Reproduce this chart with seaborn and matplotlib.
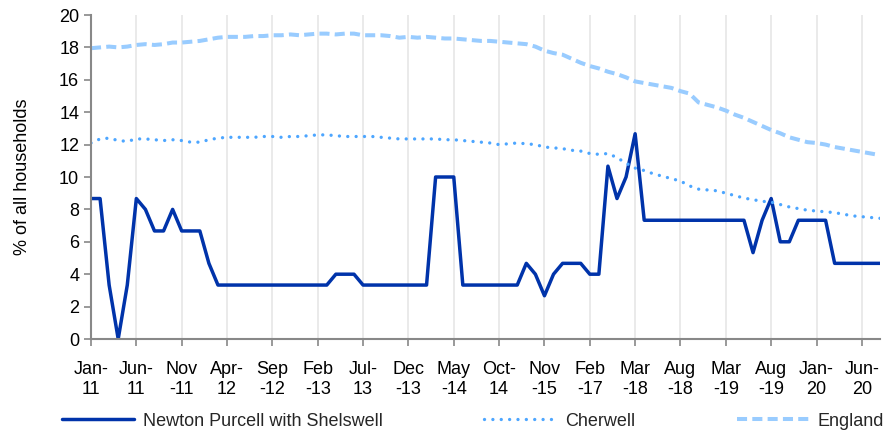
import numpy as np
import pandas as pd
import matplotlib.pyplot as plt
import seaborn as sns

# =====================================================================
# DATA (% of all households)
# =====================================================================
TICK_LABELS = ["Jan-\n11", "Jun-\n11", "Nov\n-11", "Apr-\n12", "Sep\n-12", "Feb\n-13",
               "Jul-\n13", "Dec\n-13", "May\n-14", "Oct-\n14", "Nov\n-15", "Feb\n-17",
               "Mar\n-18", "Aug\n-18", "Mar\n-19", "Aug\n-19", "Jan-\n20", "Jun-\n20"]

NEWTON = [8.67, 8.67, 3.33, 0.0, 3.33, 8.67, 8.0, 6.67, 6.67, 8.0,
          6.67, 6.67, 6.67, 4.67, 3.33, 3.33, 3.33, 3.33, 3.33, 3.33,
          3.33, 3.33, 3.33, 3.33, 3.33, 3.33, 3.33, 4.0, 4.0, 4.0,
          3.33, 3.33, 3.33, 3.33, 3.33, 3.33, 3.33, 3.33, 10.0, 10.0,
          10.0, 3.33, 3.33, 3.33, 3.33, 3.33, 3.33, 3.33, 4.67, 4.0,
          2.67, 4.0, 4.67, 4.67, 4.67, 4.0, 4.0, 10.67, 8.67, 10.0,
          12.67, 7.33, 7.33, 7.33, 7.33, 7.33, 7.33, 7.33, 7.33, 7.33,
          7.33, 7.33, 7.33, 5.33, 7.33, 8.67, 6.0, 6.0, 7.33, 7.33,
          7.33, 7.33, 4.67, 4.67, 4.67, 4.67, 4.67, 4.67]

CHERWELL = [12.1, 12.35, 12.4, 12.25, 12.2, 12.35, 12.35, 12.3, 12.25, 12.3,
            12.25, 12.15, 12.15, 12.3, 12.4, 12.45, 12.45, 12.45, 12.45, 12.5,
            12.5, 12.45, 12.5, 12.5, 12.55, 12.6, 12.6, 12.55, 12.5, 12.5,
            12.5, 12.5, 12.45, 12.4, 12.35, 12.35, 12.35, 12.35, 12.35, 12.3,
            12.3, 12.25, 12.2, 12.15, 12.1, 12.0, 12.05, 12.1, 12.05, 12.0,
            11.85, 11.8, 11.75, 11.65, 11.6, 11.45, 11.4, 11.45, 11.2, 10.85,
            10.55, 10.4, 10.2, 10.05, 9.9, 9.75, 9.45, 9.25, 9.2, 9.15,
            9.0, 8.85, 8.7, 8.6, 8.5, 8.45, 8.3, 8.15, 8.05, 7.95,
            7.9, 7.85, 7.8, 7.7, 7.6, 7.55, 7.5, 7.45]

ENGLAND = [17.95, 18.0, 18.05, 18.0, 18.05, 18.15, 18.2, 18.15, 18.2, 18.3,
           18.3, 18.35, 18.4, 18.5, 18.6, 18.65, 18.65, 18.65, 18.7, 18.7,
           18.75, 18.75, 18.8, 18.75, 18.8, 18.85, 18.85, 18.8, 18.85, 18.85,
           18.75, 18.75, 18.75, 18.7, 18.6, 18.65, 18.6, 18.65, 18.6, 18.55,
           18.55, 18.5, 18.45, 18.4, 18.4, 18.35, 18.3, 18.25, 18.2, 18.05,
           17.8, 17.65, 17.55, 17.3, 17.05, 16.85, 16.7, 16.5, 16.35, 16.15,
           15.9, 15.8, 15.7, 15.6, 15.5, 15.3, 15.15, 14.6, 14.45, 14.3,
           14.1, 13.85, 13.65, 13.4, 13.15, 12.9, 12.7, 12.45, 12.3, 12.15,
           12.1, 12.0, 11.85, 11.75, 11.65, 11.55, 11.45, 11.35]

SERIES = ["Newton Purcell with Shelswell", "Cherwell", "England"]

df = pd.DataFrame({
    "period": np.arange(len(NEWTON)),
    SERIES[0]: NEWTON,
    SERIES[1]: CHERWELL,
    SERIES[2]: ENGLAND,
})

# =====================================================================
# PLOTTING
# =====================================================================
sns.set_theme(style="white")
plt.rcParams['font.family'] = ['Liberation Sans', 'DejaVu Sans']

fig = plt.figure(figsize=(8.85, 4.32), dpi=100)
ax = fig.add_axes([91 / 885, 1 - 339 / 432, (880 - 91) / 885, (339 - 15) / 432])

sns.lineplot(data=df, x="period", y=SERIES[0], color="#0033AA", lw=2.5,
             errorbar=None, label=SERIES[0], ax=ax)
sns.lineplot(data=df, x="period", y=SERIES[1], color="#4DA6FF", lw=2.4,
             errorbar=None, label=SERIES[1], ax=ax)
sns.lineplot(data=df, x="period", y=SERIES[2], color="#99CCFF", lw=2.9,
             errorbar=None, label=SERIES[2], ax=ax)

# dotted (round dots) and dashed styles, set on the drawn lines
dotted, dashed = ax.lines[1], ax.lines[2]
dotted.set_linestyle((0, (0.01, 2.5)))
dotted.set_dash_capstyle("round")
dashed.set_linestyle((0, (2.5, 1.3)))

ax.set_xlim(0, len(NEWTON) - 1)
ax.set_ylim(0, 20)
ax.set_xticks(np.arange(0, len(NEWTON), 5))
ax.set_xticklabels(TICK_LABELS)
ax.set_yticks(np.arange(0, 21, 2))
ax.set_xlabel("")
ax.set_ylabel("% of all households", fontsize=13, color="black", labelpad=20)

ax.set_axisbelow(True)
ax.grid(axis='x', color='#e6e6e6', lw=1.2)
ax.grid(axis='y', visible=False)
ax.tick_params(axis='both', direction='out', length=5, width=1.2, color='#888888',
               labelsize=13, labelcolor='black', left=True, bottom=True)
ax.tick_params(axis='x', pad=11)

sns.despine(ax=ax)
for side in ['left', 'bottom']:
    ax.spines[side].set_color('#888888')
    ax.spines[side].set_linewidth(1.5)

ax.get_legend().remove()
handles, labels = ax.get_legend_handles_labels()
fig.legend(handles, labels, loc='center', bbox_to_anchor=(473 / 885, 1 - 421 / 432),
           ncol=3, frameon=False, fontsize=13, handlelength=4.0, handletextpad=0.5,
           columnspacing=5.6, borderaxespad=0)

fig.savefig("out.png", dpi=100)
